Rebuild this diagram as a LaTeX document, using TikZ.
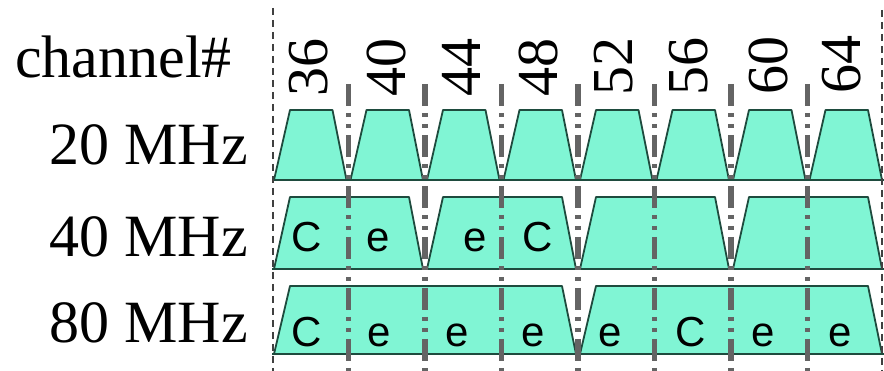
\documentclass[tikz,border=0pt]{standalone}
\usepackage{fontspec}
\setmainfont{Liberation Serif}
\newfontfamily\lblfont{Liberation Sans}
\definecolor{chanfill}{RGB}{128,245,212}
\definecolor{chanline}{RGB}{30,75,62}
\definecolor{sepgray}{RGB}{100,100,100}
\begin{document}
\begin{tikzpicture}[x=1pt,y=-1pt,
  rowlabel/.style={font=\fontsize{60}{60}\selectfont, inner sep=0pt, anchor=base east},
  chnum/.style={font=\fontsize{58}{58}\selectfont, inner sep=0pt, rotate=90, anchor=center},
  tag/.style={font=\lblfont\fontsize{42}{42}\selectfont, inner sep=0pt, anchor=base},
  chanshape/.style={fill=chanfill, draw=chanline, line width=1.8pt, line join=round},
  baseline/.style={draw=chanline, line width=1.8pt},
  sepline/.style={draw=sepgray, line width=5.5pt, dash pattern=on 22pt off 7pt on 4pt off 7pt on 4pt off 7pt},
  edgeline/.style={draw=black!75, line width=2.3pt, dash pattern=on 7pt off 5pt}]
\useasboundingbox (0,0) rectangle (884,371);
% row labels
\node[inner sep=0pt, anchor=base west, font=\fontsize{60}{60}\selectfont] (chlabel) at (15,78) {channel\#};
\node[rowlabel] (r20) at (248,165) {20 MHz};
\node[rowlabel] (r40) at (248,257) {40 MHz};
\node[rowlabel] (r80) at (248,343) {80 MHz};
% 20 MHz row
\foreach \i in {0,...,7}{
  \pgfmathsetmacro{\xa}{272+76.5*\i}
  \pgfmathsetmacro{\xb}{\xa+76.5}
  \path[chanshape] (\xa+2,180) -- (\xa+18,110) -- (\xb-16,110) -- (\xb-2,180) -- cycle;
}
% 40 MHz row
\foreach \i in {0,...,3}{
  \pgfmathsetmacro{\xa}{272+153*\i}
  \pgfmathsetmacro{\xb}{\xa+153}
  \path[chanshape] (\xa+2,269) -- (\xa+18,197) -- (\xb-16,197) -- (\xb-2,269) -- cycle;
}
% 80 MHz row
\foreach \i in {0,1}{
  \pgfmathsetmacro{\xa}{272+306*\i}
  \pgfmathsetmacro{\xb}{\xa+306}
  \path[chanshape] (\xa+2,354) -- (\xa+18,286) -- (\xb-16,286) -- (\xb-2,354) -- cycle;
}
\coordinate (b20l) at (272,180); \coordinate (b20r) at (884,180);
\coordinate (b40l) at (272,269); \coordinate (b40r) at (884,269);
\coordinate (b80l) at (272,354); \coordinate (b80r) at (884,354);
\draw[baseline] (b20l) -- (b20r);
\draw[baseline] (b40l) -- (b40r);
\draw[baseline] (b80l) -- (b80r);
% separators
\foreach \i in {1,...,7}{
  \pgfmathsetmacro{\xs}{272+76.5*\i}
  \coordinate (st\i) at (\xs,84);
  \coordinate (sb\i) at (\xs,371);
  \draw[sepline] (st\i) -- (sb\i);
}
% edge lines
\coordinate (lt) at (273,8); \coordinate (lb) at (273,371);
\draw[edgeline] (lt) -- (lb);
\coordinate (rt) at (882,10); \coordinate (rb) at (882,371);
\draw[edgeline] (rt) -- (rb);
% channel numbers
\node[chnum] (c36) at (309,68) {36};
\node[chnum] (c40) at (386,68) {40};
\node[chnum] (c44) at (461,68) {44};
\node[chnum] (c48) at (538,68) {48};
\node[chnum] (c52) at (614,67) {52};
\node[chnum] (c56) at (689,67) {56};
\node[chnum] (c60) at (768,66) {60};
\node[chnum] (c64) at (842,65) {64};
% 40 MHz tags
\node[tag] (t40a) at (307,252) {C};
\node[tag] (t40b) at (378,252) {e};
\node[tag] (t40c) at (475,252) {e};
\node[tag] (t40d) at (538,252) {C};
% 80 MHz tags
\node[tag] (t80a) at (307,347) {C};
\node[tag] (t80b) at (379,347) {e};
\node[tag] (t80c) at (457,347) {e};
\node[tag] (t80d) at (533,347) {e};
\node[tag] (t80e) at (610,347) {e};
\node[tag] (t80f) at (691,347) {C};
\node[tag] (t80g) at (763,347) {e};
\node[tag] (t80h) at (840,347) {e};
\end{tikzpicture}
\end{document}
